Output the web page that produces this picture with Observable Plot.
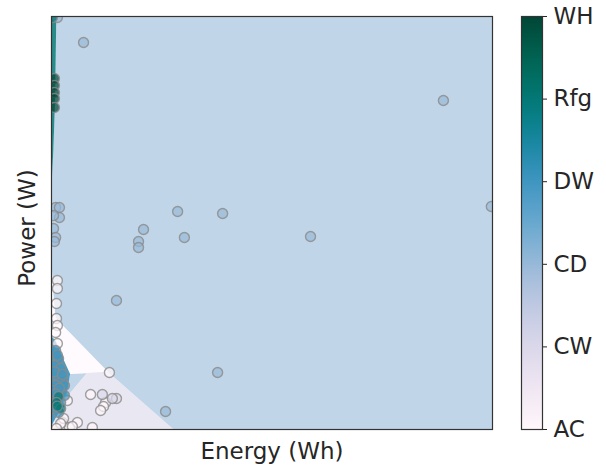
<!DOCTYPE html>
<html>
<head>
<meta charset="utf-8">
<script src="https://cdn.jsdelivr.net/npm/d3@7"></script>
<script src="https://cdn.jsdelivr.net/npm/@observablehq/plot@0.6"></script>
<style>
  html, body { margin: 0; padding: 0; background: #fff; }
  #wrap { position: relative; width: 606px; height: 468px; display: flex; font-family: "DejaVu Sans", sans-serif; }
  #wrap svg { display: block; }
</style>
</head>
<body>
<div id="wrap"></div>
<script>
// ---- categories (colour index 0..5) ----
const classes = ["AC", "CW", "CD", "DW", "Rfg", "WH"];
const energyDomain = [0, 1500];
const powerDomain = [0, 3000];

// ---- decision regions (energy Wh / power W) ----
// AC region: x-monotone band
const acEnergy = [0, 7, 14, 20, 31, 65, 194];
const acTop    = [1300, 1010, 828, 792, 770, 697, 414];
const acBottom = [683, 661, 646, 610, 559, 400, 414];
// DW region
const dwEnergy = [0, 3, 14, 31, 51, 65];
const dwTop    = [683, 668, 646, 559, 465, 400];
const dwBottom = [15, 29, 73, 138, 225, 400];
// CW region (bottom band)
const cwEnergy = [0, 3, 51, 122, 194, 415];
const cwTop    = [15, 29, 225, 407, 414, 0];
// Rfg stripe along left edge (power as independent)
const rfgPower  = [3000, 2390, 2027, 1700];
const rfgEnergy = [18, 14, 8, 0];

// ---- measured points ----
const cdEnergy = [109, 20, 1333, 1496, 429, 582, 313, 296, 296, 452, 881, 221, 565, 388, 14, 27, 27, 7, 7, 14, 10];
const cdPower  = [2811, 2993, 2390, 1620, 1584, 1569, 1453, 1366, 1322, 1395, 1402, 937, 414, 131, 1613, 1613, 1540, 1554, 1460, 1395, 1366];
const acPtEnergy = [20, 20, 17, 17, 20, 14, 20, 197, 133, 184, 177, 167, 88, 139, 37, 54, 61, 41, 31, 17, 71];
const acPtPower  = [1082, 1024, 915, 806, 755, 705, 625, 414, 254, 196, 167, 138, 51, 15, 51, 211, 15, 80, 44, 7, 22];
const cwPtEnergy = [221, 207, 173];
const cwPtPower  = [225, 225, 254];
const dwPtEnergy = [14, 24, 10, 31, 20, 37, 14, 31, 44, 17, 7, 24, 44, 7, 31, 20, 10, 37, 27, 14];
const dwPtPower  = [574, 516, 465, 443, 392, 356, 320, 283, 247, 225, 153, 123, 320, 283, 196, 540, 420, 400, 300, 260];
const rfgPtEnergy = [24, 17, 31, 3, 20];
const rfgPtPower  = [240, 196, 153, 2993, 170];
const whPtEnergy = [10, 10, 10, 10, 10];
const whPtPower  = [2550, 2499, 2448, 2404, 2339];

const band = (xs, top, bottom) => xs.map((x, i) => ({x, y1: bottom ? bottom[i] : 0, y2: top[i]}));
const pts = (xs, ys, c) => xs.map((x, i) => ({x, y: ys[i], c}));

const acBand = band(acEnergy, acTop, acBottom);
const dwBand = band(dwEnergy, dwTop, dwBottom);
const cwBand = band(cwEnergy, cwTop, null);
const rfgBand = rfgPower.map((y, i) => ({y, x1: 0, x2: rfgEnergy[i]}));

const points = [
  ...pts(cdEnergy, cdPower, 2),
  ...pts(acPtEnergy, acPtPower, 0),
  ...pts(cwPtEnergy, cwPtPower, 1),
  ...pts(dwPtEnergy, dwPtPower, 3),
  ...pts(rfgPtEnergy, rfgPtPower, 4),
  ...pts(whPtEnergy, whPtPower, 5)
];

const colorScale = {type: "linear", domain: [0, 5], scheme: "PuBuGn"};
const regionOpacity = 0.6;
const ink = "#262626";

const main = Plot.plot({
  width: 500, height: 468,
  marginLeft: 51, marginRight: 8, marginTop: 16, marginBottom: 39,
  x: {domain: energyDomain, axis: null},
  y: {domain: powerDomain, axis: null},
  color: colorScale,
  style: {fontFamily: "DejaVu Sans", fontSize: "23px", color: ink, background: "white"},
  marks: [
    // background class CD
    Plot.rect([0], {x1: energyDomain[0], x2: energyDomain[1], y1: powerDomain[0], y2: powerDomain[1], fill: () => 2, fillOpacity: regionOpacity}),
    // AC
    Plot.areaY(acBand, {x: "x", y1: "y1", y2: "y2", fill: "white"}),
    Plot.areaY(acBand, {x: "x", y1: "y1", y2: "y2", fill: () => 0, fillOpacity: regionOpacity}),
    // CW
    Plot.areaY(cwBand, {x: "x", y1: "y1", y2: "y2", fill: "white"}),
    Plot.areaY(cwBand, {x: "x", y1: "y1", y2: "y2", fill: () => 1, fillOpacity: regionOpacity}),
    // DW
    Plot.areaY(dwBand, {x: "x", y1: "y1", y2: "y2", fill: "white"}),
    Plot.areaY(dwBand, {x: "x", y1: "y1", y2: "y2", fill: () => 3, fillOpacity: 0.95}),
    // Rfg stripe
    Plot.areaX(rfgBand, {y: "y", x1: "x1", x2: "x2", fill: "white"}),
    Plot.areaX(rfgBand, {y: "y", x1: "x1", x2: "x2", fill: () => 4, fillOpacity: 0.85}),
    // points
    Plot.dot(points, {x: "x", y: "y", r: 5, fill: "c", fillOpacity: 0.7, stroke: "#8a8a8a", strokeOpacity: 0.8, strokeWidth: 1.4, clip: true}),
    Plot.frame({stroke: "#333", strokeWidth: 1.2}),
    Plot.text(["Energy (Wh)"], {frameAnchor: "bottom", textAnchor: "middle", lineAnchor: "middle", dy: 22, fontSize: 23, fill: ink}),
    Plot.text(["Power (W)"], {frameAnchor: "left", textAnchor: "middle", lineAnchor: "middle", rotate: -90, dx: -24, dy: 5, fontSize: 23, fill: ink})
  ]
});

const bar = Plot.plot({
  width: 106, height: 468,
  marginLeft: 21, marginRight: 64, marginTop: 16, marginBottom: 39,
  x: {domain: [0, 1], axis: null},
  y: {domain: [0, 5], axis: "right", ticks: [0, 1, 2, 3, 4, 5], tickFormat: i => classes[i], tickSize: 4, tickPadding: 7, label: null},
  color: colorScale,
  style: {fontFamily: "DejaVu Sans", fontSize: "23px", color: ink, background: "white"},
  marks: [
    Plot.raster({x1: 0, x2: 1, y1: 0, y2: 5, fill: (x, y) => y}),
    Plot.frame({stroke: "#333", strokeWidth: 1.2})
  ]
});

const wrap = document.getElementById("wrap");
wrap.appendChild(main);
wrap.appendChild(bar);
</script>
</body>
</html>
